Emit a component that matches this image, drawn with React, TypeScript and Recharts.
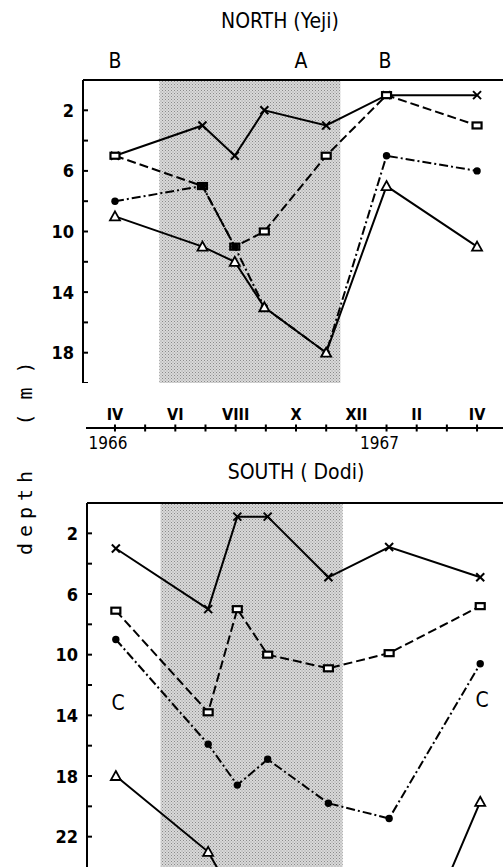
import { Line, LineChart, ReferenceArea, ReferenceLine, XAxis, YAxis } from "recharts"

// sampling dates in months after April 1966
const northMonths = [0, 2.9, 3.97, 4.95, 7, 9, 12]
const northCross = [5, 3, 5, 2, 3, 1, 1]
const northSquare = [5, 7, 11, 10, 5, 1, 3]
const northDot = [8, 7, 11, 15, 18, 5, 6]
const northTriangle = [9, 11, 12, 15, 18, 7, 11]

const southMonths = [0, 3.04, 4, 5, 7, 9, 12]
const southCross = [3, 7, 0.9, 0.9, 4.9, 2.9, 4.9]
const southSquare = [7.1, 13.8, 7, 10, 10.9, 9.9, 6.8]
const southDot = [9, 15.9, 18.6, 16.9, 19.8, 20.8, 10.6]
const southTriangle = [18, 23, 26.4, 28, 31, 33.8, 19.7]

const shadeStart = 1.47
const shadeEnd = 7.47

const northDepthTicks = [2, 4, 6, 8, 10, 12, 14, 16, 18, 20]
const southDepthTicks = [2, 4, 6, 8, 10, 12, 14, 16, 18, 20, 22]
const labelledDepths = [2, 6, 10, 14, 18, 22]

const monthTicks = [0, 1, 2, 3, 4, 5, 6, 7, 8, 9, 10, 11, 12]
const monthLabelAt = [0, 2, 4, 6, 8, 10, 12]
const monthLabelText = ["IV", "VI", "VIII", "X", "XII", "II", "IV"]
const yearAt = [0, 9]
const yearText = ["1966", "1967"]

const FONT = "'Liberation Sans Narrow', 'DejaVu Sans Condensed', 'Liberation Sans', sans-serif"

const buildRows = (months: number[], cross: number[], square: number[], dot: number[], tri: number[]) =>
  months.map((m, i) => ({ m, cross: cross[i], square: square[i], dot: dot[i], tri: tri[i] }))

const northRows = buildRows(northMonths, northCross, northSquare, northDot, northTriangle)
const southRows = buildRows(southMonths, southCross, southSquare, southDot, southTriangle)

type DotProps = { cx?: number; cy?: number; index?: number }

function crossDot({ cx, cy, index }: DotProps) {
  if (cx == null || cy == null || isNaN(cx) || isNaN(cy)) return <g key={`c${index}`} />
  const s = 4
  return (
    <g key={`c${index}`} stroke="#000" strokeWidth={2}>
      <line x1={cx - s} y1={cy - s} x2={cx + s} y2={cy + s} />
      <line x1={cx - s} y1={cy + s} x2={cx + s} y2={cy - s} />
    </g>
  )
}

function squareDot({ cx, cy, index }: DotProps) {
  if (cx == null || cy == null || isNaN(cx) || isNaN(cy)) return <g key={`s${index}`} />
  return <rect key={`s${index}`} x={cx - 4.5} y={cy - 3} width={9} height={6} fill="#fff" stroke="#000" strokeWidth={2.2} />
}

function filledDot({ cx, cy, index }: DotProps) {
  if (cx == null || cy == null || isNaN(cx) || isNaN(cy)) return <g key={`d${index}`} />
  return <circle key={`d${index}`} cx={cx} cy={cy} r={3.7} fill="#000" />
}

function triangleDot({ cx, cy, index }: DotProps) {
  if (cx == null || cy == null || isNaN(cx) || isNaN(cy)) return <g key={`t${index}`} />
  const s = 5
  return (
    <polygon
      key={`t${index}`}
      points={`${cx},${cy - s} ${cx + s},${cy + s * 0.8} ${cx - s},${cy + s * 0.8}`}
      fill="#fff"
      stroke="#000"
      strokeWidth={1.8}
    />
  )
}

function DepthTick({ x, y, payload }: { x?: number; y?: number; payload?: { value: number } }) {
  if (x == null || y == null || !payload) return null
  const labelled = labelledDepths.includes(payload.value)
  return (
    <g>
      <line x1={x} y1={y} x2={x + 5} y2={y} stroke="#000" strokeWidth={2} />
      {labelled && (
        <text x={x - 9} y={y} textAnchor="end" dominantBaseline="central" fontSize={18} fontWeight="bold" fontFamily={FONT}>
          {payload.value}
        </text>
      )}
    </g>
  )
}

function MonthTick({ x, y, payload }: { x?: number; y?: number; payload?: { value: number } }) {
  if (x == null || y == null || !payload) return null
  const li = monthLabelAt.indexOf(payload.value)
  const yi = yearAt.indexOf(payload.value)
  return (
    <g>
      <line x1={x} y1={y - 3.5} x2={x} y2={y + 3.5} stroke="#000" strokeWidth={2} />
      {li >= 0 && (
        <text x={x} y={y - 8} textAnchor="middle" fontSize={16} fontWeight="bold" fontFamily={FONT}>
          {monthLabelText[li]}
        </text>
      )}
      {yi >= 0 && (
        <text x={x - 7} y={y + 21} textAnchor="middle" fontSize={17} fontFamily={FONT}>
          {yearText[yi]}
        </text>
      )}
    </g>
  )
}

function Series() {
  return [
    <Line key="cross" dataKey="cross" type="linear" stroke="#000" strokeWidth={2} dot={crossDot} isAnimationActive={false} />,
    <Line key="square" dataKey="square" type="linear" stroke="#000" strokeWidth={2} strokeDasharray="9 4" dot={squareDot} isAnimationActive={false} />,
    <Line key="dot" dataKey="dot" type="linear" stroke="#000" strokeWidth={2} strokeDasharray="9 3 2 3" dot={filledDot} isAnimationActive={false} />,
    <Line key="tri" dataKey="tri" type="linear" stroke="#000" strokeWidth={2} dot={triangleDot} isAnimationActive={false} />,
  ]
}

function Shade({ id }: { id: string }) {
  return (
    <defs>
      <pattern id={id} patternUnits="userSpaceOnUse" width={3} height={3}>
        <rect width={3} height={3} fill="#d9d9d9" />
        <rect x={0} y={0} width={1} height={1} fill="#8a8a8a" />
        <rect x={1.5} y={1.5} width={1} height={1} fill="#9a9a9a" />
      </pattern>
    </defs>
  )
}

export default function App() {
  return (
    <div style={{ position: "absolute", left: 0, top: 0, width: 503, height: 867, overflow: "hidden", background: "#fff" }}>
      {/* NORTH panel */}
      <div style={{ position: "absolute", left: 0, top: 0 }}>
        <LineChart width={503} height={383} data={northRows} margin={{ top: 80, right: 0, bottom: 0, left: 0 }}>
          <Shade id="northShade" />
          <XAxis dataKey="m" type="number" domain={[-1.06, 12.86]} allowDataOverflow hide />
          <YAxis
            type="number"
            domain={[0, 20]}
            reversed
            allowDataOverflow
            width={83}
            ticks={northDepthTicks}
            interval={0}
            tickSize={0}
            tickMargin={0}
            tickLine={false}
            axisLine={{ stroke: "#000", strokeWidth: 2 }}
            tick={<DepthTick />}
          />
          <ReferenceArea x1={shadeStart} x2={shadeEnd} y1={0} y2={20} fill="url(#northShade)" fillOpacity={1} stroke="none" />
          <ReferenceLine y={0} stroke="#000" strokeWidth={2} />
          {Series()}
        </LineChart>
      </div>

      {/* time axis */}
      <div style={{ position: "absolute", left: 0, top: 397 }}>
        <LineChart width={503} height={61} data={northRows} margin={{ top: 30, right: 0, bottom: 0, left: 86 }}>
          <XAxis
            dataKey="m"
            type="number"
            domain={[-0.96, 12.86]}
            allowDataOverflow
            ticks={monthTicks}
            interval={0}
            height={30}
            tickSize={0}
            tickMargin={0}
            tickLine={false}
            axisLine={{ stroke: "#000", strokeWidth: 2 }}
            tick={<MonthTick />}
          />
        </LineChart>
      </div>

      {/* SOUTH panel */}
      <div style={{ position: "absolute", left: 0, top: 423 }}>
        <LineChart width={503} height={444} data={southRows} margin={{ top: 80, right: 0, bottom: 0, left: 0 }}>
          <Shade id="southShade" />
          <XAxis dataKey="m" type="number" domain={[-0.95, 12.75]} allowDataOverflow hide />
          <YAxis
            type="number"
            domain={[0, 24]}
            reversed
            allowDataOverflow
            width={87}
            ticks={southDepthTicks}
            interval={0}
            tickSize={0}
            tickMargin={0}
            tickLine={false}
            axisLine={{ stroke: "#000", strokeWidth: 2 }}
            tick={<DepthTick />}
          />
          <ReferenceArea x1={shadeStart} x2={shadeEnd} y1={0} y2={24} fill="url(#southShade)" fillOpacity={1} stroke="none" />
          <ReferenceLine y={0} stroke="#000" strokeWidth={2} />
          {Series()}
        </LineChart>
      </div>

      {/* titles and annotations */}
      <svg width={503} height={867} style={{ position: "absolute", left: 0, top: 0, pointerEvents: "none" }}>
        <g fontFamily={FONT} fill="#000">
          <text x={280} y={28} textAnchor="middle" fontSize={21}>NORTH (Yeji)</text>
          <text x={115} y={68} textAnchor="middle" fontSize={21}>B</text>
          <text x={301} y={68} textAnchor="middle" fontSize={21}>A</text>
          <text x={385} y={68} textAnchor="middle" fontSize={21}>B</text>
          <text x={296} y={479} textAnchor="middle" fontSize={21}>SOUTH ( Dodi)</text>
          <text x={118} y={710} textAnchor="middle" fontSize={21}>C</text>
          <text x={482} y={707} textAnchor="middle" fontSize={21}>C</text>
        </g>
        <g fontFamily="'DejaVu Sans Mono', monospace" fontSize={20} fill="#000">
          <text transform="translate(32,510) rotate(-90)" textAnchor="middle" letterSpacing={6}>depth</text>
          <text transform="translate(32,393) rotate(-90)" textAnchor="middle" letterSpacing={1}>( m )</text>
        </g>
      </svg>
    </div>
  )
}
